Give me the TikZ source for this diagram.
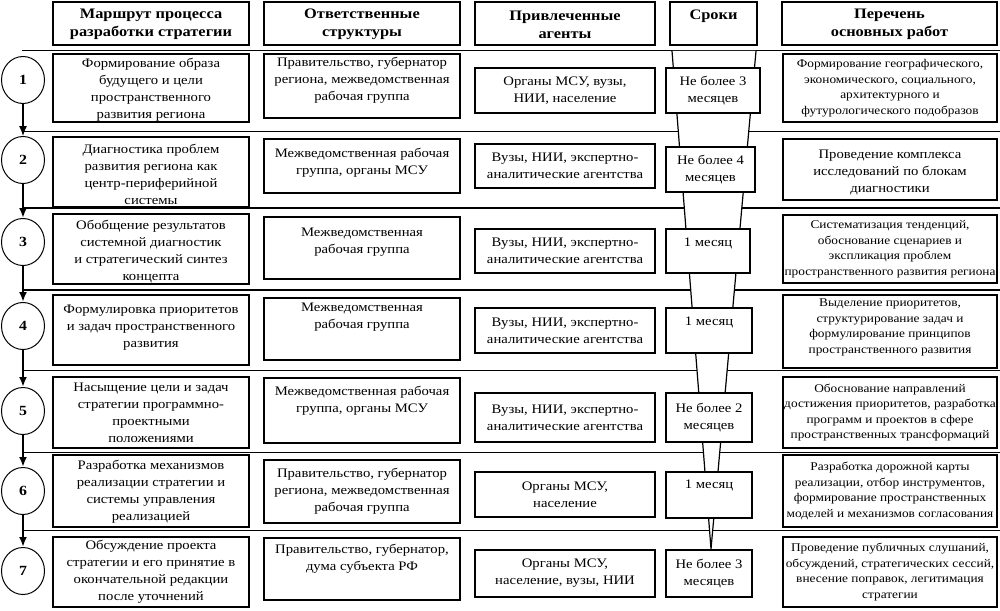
\documentclass[tikz,border=0pt]{standalone}
\usepackage{fontspec}
\setmainfont{Liberation Serif}[FakeStretch=1.13]
\usetikzlibrary{fit,arrows.meta,shapes.geometric}
\newcommand\fsm{\fontsize{13}{17}\selectfont}
\newcommand\fss{\fontsize{11.8}{15.5}\selectfont}
\newcommand\fsh{\fontsize{14.5}{18}\selectfont\bfseries}
\tikzset{
  cellbox/.style={draw, line width=1.2pt, fill=white, inner sep=0pt},
  txt/.style={align=center, inner sep=0pt, font=\fsm},
  txs/.style={align=center, inner sep=0pt, font=\fss},
  txh/.style={align=center, inner sep=0pt, font=\fsh},
  sep/.style={line width=1pt},
  circ/.style={draw, ellipse, line width=1pt, minimum width=43pt, minimum height=47pt, inner sep=0pt, fill=white, font=\fontsize{14}{16}\selectfont\bfseries},
  flow/.style={line width=2.4pt, -{Latex[length=10pt,width=8pt]}},
}
\newcommand\cell[5]{\node[cellbox, fit={(#2,#3) (#4,#5)}] (#1) {};}
\begin{document}
\begin{tikzpicture}[x=1pt,y=-1pt]
\useasboundingbox (0,0) rectangle (1000,610);
% separators
\draw[sep] (22,51) -- (1000,51);
\draw[sep] (22,131) -- (1000,131);
\draw[sep, line width=1.4pt] (22,208) -- (1000,208);
\draw[sep, line width=1.4pt] (22,290) -- (1000,290);
\draw[sep] (22,370) -- (1000,370);
\draw[sep] (22,452) -- (1000,452);
\draw[sep] (22,530) -- (1000,530);
% funnel
\fill[white] (672,51) -- (756,51) -- (711,549) -- cycle;
\draw[line width=1.2pt] (672,51) -- (711,549) -- (756,51);
% headers
\cell{h1}{53}{2}{249}{45}
\cell{h2}{264}{2}{460}{45}
\cell{h3}{475}{2}{655}{45}
\cell{h4}{670}{2}{757}{45}
\cell{h5}{782}{2}{997}{45}
\node[txh] (h1t) at ([yshift=-1pt]h1.center) {Маршрут процесса\\разработки стратегии};
\node[txh] (h2t) at ([yshift=-1pt]h2.center) {Ответственные\\структуры};
\node[txh] (h3t) at ([yshift=-1pt]h3.center) {Привлеченные\\агенты};
\node[txh, anchor=north] (h4t) at ([yshift=-8pt]h4.north) {Сроки};
\node[txh] (h5t) at ([yshift=-1pt]h5.center) {Перечень\\основных работ};
% circles
\node[circ] (c1) at (23,80) {1};
\node[circ] (c2) at (23,160) {2};
\node[circ] (c3) at (23,242) {3};
\node[circ] (c4) at (23,326) {4};
\node[circ] (c5) at (23,411) {5};
\node[circ] (c6) at (23,491) {6};
\node[circ] (c7) at (23,571) {7};
\draw[flow, line width=1.2pt] (c1) -- (c2);
\draw[flow] (c2) -- (c3);
\draw[flow] (c3) -- (c4);
\draw[flow] (c4) -- (c5);
\draw[flow] (c5) -- (c6);
\draw[flow] (c6) -- (c7);
% row 1
\cell{a1}{53}{54}{249}{122}
\cell{b1}{264}{54}{460}{118}
\cell{d1}{475}{68}{655}{113}
\cell{e1}{666}{68}{760}{113}
\cell{f1}{783}{54}{997}{122}
\node[txt] (a1t) at ([yshift=-2pt]a1.center) {Формирование образа\\будущего и цели\\пространственного\\развития региона};
\node[txt, anchor=north] (b1t) at ([yshift=-4pt]b1.north) {Правительство, губернатор\\региона, межведомственная\\рабочая группа};
\node[txt] (d1t) at (d1.center) {Органы МСУ, вузы,\\НИИ, население};
\node[txt] (e1t) at (e1.center) {Не более 3\\месяцев};
\node[txs] (f1t) at (f1.center) {Формирование географического,\\экономического, социального,\\архитектурного и\\футурологического подобразов};
% row 2
\cell{a2}{53}{137}{249}{207}
\cell{b2}{264}{139}{460}{193}
\cell{d2}{475}{144}{655}{188}
\cell{e2}{666}{147}{755}{192}
\cell{f2}{783}{139}{997}{200}
\node[txt] (a2t) at ([yshift=-2pt]a2.center) {Диагностика проблем\\развития региона как\\центр-периферийной\\системы};
\node[txt, anchor=north] (b2t) at ([yshift=-10pt]b2.north) {Межведомственная рабочая\\группа, органы МСУ};
\node[txt] (d2t) at (d2.center) {Вузы, НИИ, экспертно-\\аналитические агентства};
\node[txt] (e2t) at (e2.center) {Не более 4\\месяцев};
\node[txt] (f2t) at ([yshift=-3pt]f2.center) {Проведение комплекса\\исследований по блокам\\диагностики};
% row 3
\cell{a3}{53}{214}{249}{284}
\cell{b3}{264}{217}{460}{279}
\cell{d3}{475}{229}{655}{273}
\cell{e3}{666}{229}{750}{273}
\cell{f3}{783}{215}{997}{283}
\node[txt] (a3t) at ([yshift=-3pt]a3.center) {Обобщение результатов\\системной диагностик\\и стратегический синтез\\концепта};
\node[txt, anchor=north] (b3t) at ([yshift=-11pt]b3.north) {Межведомственная\\рабочая группа};
\node[txt] (d3t) at (d3.center) {Вузы, НИИ, экспертно-\\аналитические агентства};
\node[txt, anchor=north] (e3t) at ([yshift=-9pt]e3.north) {1 месяц};
\node[txs] (f3t) at (f3.center) {Систематизация тенденций,\\обоснование сценариев и\\экспликация проблем\\пространственного развития региона};
% row 4
\cell{a4}{53}{295}{249}{365}
\cell{b4}{264}{298}{460}{360}
\cell{d4}{475}{308}{655}{353}
\cell{e4}{666}{308}{752}{353}
\cell{f4}{783}{295}{997}{368}
\node[txt] (a4t) at ([yshift=2pt]a4.center) {Формулировка приоритетов\\и задач пространственного\\развития};
\node[txt, anchor=north] (b4t) at ([yshift=-5pt]b4.north) {Межведомственная\\рабочая группа};
\node[txt] (d4t) at (d4.center) {Вузы, НИИ, экспертно-\\аналитические агентства};
\node[txt, anchor=north] (e4t) at ([yshift=-9pt]e4.north) {1 месяц};
\node[txs] (f4t) at ([yshift=4pt]f4.center) {Выделение приоритетов,\\структурирование задач и\\формулирование принципов\\пространственного развития};
% row 5
\cell{a5}{53}{377}{249}{448}
\cell{b5}{264}{378}{460}{443}
\cell{d5}{475}{393}{655}{442}
\cell{e5}{666}{393}{752}{442}
\cell{f5}{783}{377}{997}{448}
\node[txt] (a5t) at (a5.center) {Насыщение цели и задач\\стратегии программно-\\проектными\\положениями};
\node[txt, anchor=north] (b5t) at ([yshift=-9pt]b5.north) {Межведомственная рабочая\\группа, органы МСУ};
\node[txt] (d5t) at (d5.center) {Вузы, НИИ, экспертно-\\аналитические агентства};
\node[txt] (e5t) at (e5.center) {Не более 2\\месяцев};
\node[txs] (f5t) at (f5.center) {Обоснование направлений\\достижения приоритетов, разработка\\программ и проектов в сфере\\пространственных трансформаций};
% row 6
\cell{a6}{53}{455}{249}{527}
\cell{b6}{264}{460}{460}{523}
\cell{d6}{475}{472}{655}{517}
\cell{e6}{666}{472}{752}{518}
\cell{f6}{783}{455}{997}{527}
\node[txt] (a6t) at ([yshift=-1pt]a6.center) {Разработка механизмов\\реализации стратегии и\\системы управления\\реализацией};
\node[txt] (b6t) at (b6.center) {Правительство, губернатор\\региона, межведомственная\\рабочая группа};
\node[txt] (d6t) at (d6.center) {Органы МСУ,\\население};
\node[txt, anchor=north] (e6t) at ([yshift=-8pt]e6.north) {1 месяц};
\node[txs] (f6t) at (f6.center) {Разработка дорожной карты\\реализации, отбор инструментов,\\формирование пространственных\\моделей и механизмов согласования};
% row 7
\cell{a7}{53}{537}{249}{607}
\cell{b7}{264}{538}{460}{600}
\cell{d7}{475}{550}{655}{597}
\cell{e7}{666}{550}{752}{597}
\cell{f7}{783}{537}{997}{607}
\node[txt] (a7t) at (a7.center) {Обсуждение проекта\\стратегии и его принятие в\\окончательной редакции\\после уточнений};
\node[txt, anchor=north] (b7t) at ([yshift=-7pt]b7.north) {Правительство, губернатор,\\дума субъекта РФ};
\node[txt] (d7t) at (d7.center) {Органы МСУ,\\население, вузы, НИИ};
\node[txt] (e7t) at (e7.center) {Не более 3\\месяцев};
\node[txs] (f7t) at (f7.center) {Проведение публичных слушаний,\\обсуждений, стратегических сессий,\\внесение поправок, легитимация\\стратегии};
\end{tikzpicture}
\end{document}
